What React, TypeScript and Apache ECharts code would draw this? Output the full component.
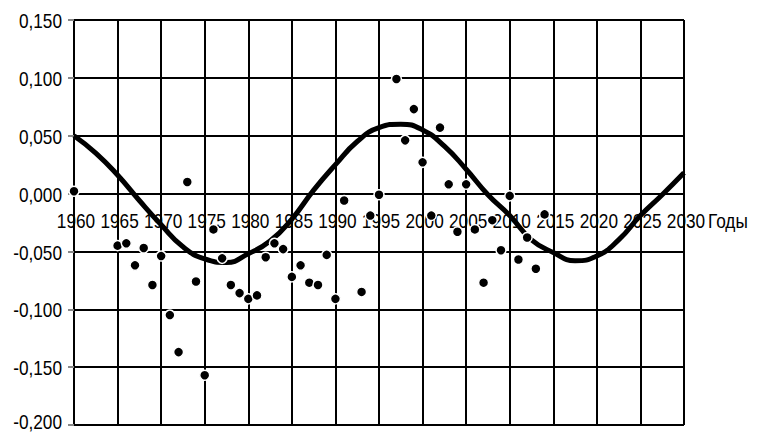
import React, { useEffect, useRef } from "react";
import * as echarts from "echarts";

const obsYears = [1960, 1965, 1966, 1967, 1968, 1969, 1970, 1971, 1972, 1973, 1974, 1975, 1976, 1977, 1978, 1979, 1980, 1981, 1982, 1983, 1984, 1985, 1986, 1987, 1988, 1989, 1990, 1991, 1993, 1994, 1995, 1997, 1998, 1999, 2000, 2001, 2002, 2003, 2004, 2005, 2006, 2007, 2008, 2009, 2010, 2011, 2012, 2013, 2014];
const obsValues = [0.002, -0.045, -0.043, -0.062, -0.047, -0.079, -0.054, -0.105, -0.137, 0.010, -0.076, -0.157, -0.031, -0.056, -0.079, -0.086, -0.091, -0.088, -0.055, -0.043, -0.048, -0.072, -0.062, -0.077, -0.079, -0.053, -0.091, -0.006, -0.085, -0.019, -0.001, 0.099, 0.046, 0.073, 0.027, -0.019, 0.057, 0.008, -0.033, 0.008, -0.031, -0.077, -0.023, -0.049, -0.002, -0.057, -0.038, -0.065, -0.018];

const curveYears = [1960, 1962.5, 1965, 1967.5, 1970, 1972.5, 1975, 1977.5, 1980, 1982.5, 1985, 1987.5, 1990, 1992.5, 1995, 1997.5, 2000, 2002.5, 2005, 2007.5, 2010, 2012.5, 2015, 2017.5, 2020, 2022.5, 2025, 2027.5, 2030];
const curveValues = [0.050, 0.035, 0.016, -0.006, -0.027, -0.046, -0.0565, -0.0595, -0.052, -0.041, -0.022, 0.003, 0.025, 0.045, 0.057, 0.060, 0.055, 0.041, 0.021, -0.001, -0.019, -0.040, -0.051, -0.058, -0.054, -0.040, -0.019, -0.001, 0.018];

const xTicks = [1960, 1965, 1970, 1975, 1980, 1985, 1990, 1995, 2000, 2005, 2010, 2015, 2020, 2025, 2030];
const yTicks = [0.15, 0.1, 0.05, 0, -0.05, -0.1, -0.15, -0.2];
const xName = "Годы";

const FONT = "'Liberation Sans', Arial, sans-serif";
const FS = 21;
const SX = 0.82;
const H = 434;

const fmtY = (v: number) => v.toFixed(3).replace(".", ",");

export default function App() {
  const ref = useRef<HTMLDivElement>(null);
  useEffect(() => {
    if (!ref.current) return;
    const chart = echarts.init(ref.current, null, { renderer: "svg" });
    chart.setOption({
      animation: false,
      backgroundColor: "#ffffff",
      grid: { left: 74, right: 75, top: 20, bottom: 9, containLabel: false, outerBoundsMode: "none" },
      xAxis: {
        type: "value",
        min: xTicks[0],
        max: xTicks[xTicks.length - 1],
        interval: 5,
        axisLine: { show: true, onZero: true, lineStyle: { color: "#000", width: 2 } },
        axisTick: { show: false },
        axisLabel: { show: false },
        splitLine: { show: true, lineStyle: { color: "#000", width: 2 } },
      },
      yAxis: {
        type: "value",
        min: yTicks[yTicks.length - 1],
        max: yTicks[0],
        interval: 0.05,
        axisLine: { show: true, onZero: false, lineStyle: { color: "#000", width: 2 } },
        axisTick: { show: true, inside: false, length: 6, lineStyle: { color: "#888", width: 2 } },
        axisLabel: { show: false },
        splitLine: { show: true, lineStyle: { color: "#000", width: 2 } },
      },
      series: [
        {
          type: "line",
          data: curveYears.map((y, i) => [y, curveValues[i]]),
          smooth: true,
          showSymbol: false,
          lineStyle: { color: "#000", width: 5 },
          z: 5,
        },
        {
          type: "scatter",
          data: obsYears.map((y, i) => [y, obsValues[i]]),
          symbol: "circle",
          symbolSize: 10,
          itemStyle: { color: "#000", borderColor: "#fff", borderWidth: 1.5, opacity: 1 },
          z: 6,
        },
      ],
    });

    const px = (x: number, y: number) =>
      chart.convertToPixel({ gridIndex: 0 }, [x, y]) as number[];
    const [leftX] = px(xTicks[0], 0);
    const [rightX, zeroY] = px(xTicks[xTicks.length - 1], 0);
    const labelY = zeroY + 27;

    const textStyle = { fontFamily: FONT, fontSize: FS, lineHeight: 15, fill: "#000" };
    const graphics: any[] = [];
    xTicks.forEach((t) => {
      const [x] = px(t, 0);
      graphics.push({
        type: "text",
        x: x + 2,
        y: labelY,
        scaleX: SX,
        z: 1,
        silent: true,
        style: { ...textStyle, text: String(t), align: "center", verticalAlign: "middle" },
      });
    });
    yTicks.forEach((t) => {
      const [, y] = px(xTicks[0], t);
      graphics.push({
        type: "text",
        x: leftX - 12,
        y: Math.min(y + 1, H - 12.5),
        scaleX: SX,
        z: 1,
        silent: true,
        style: { ...textStyle, text: fmtY(t), align: "right", verticalAlign: "middle" },
      });
    });
    graphics.push({
      type: "text",
      x: rightX + 24,
      y: labelY,
      scaleX: SX,
      z: 1,
      silent: true,
      style: { ...textStyle, text: xName, align: "left", verticalAlign: "middle" },
    });
    chart.setOption({ graphic: graphics });

    return () => chart.dispose();
  }, []);
  return (
    <div
      ref={ref}
      style={{ position: "absolute", left: 0, top: 0, width: 759, height: H, background: "#fff" }}
    />
  );
}
